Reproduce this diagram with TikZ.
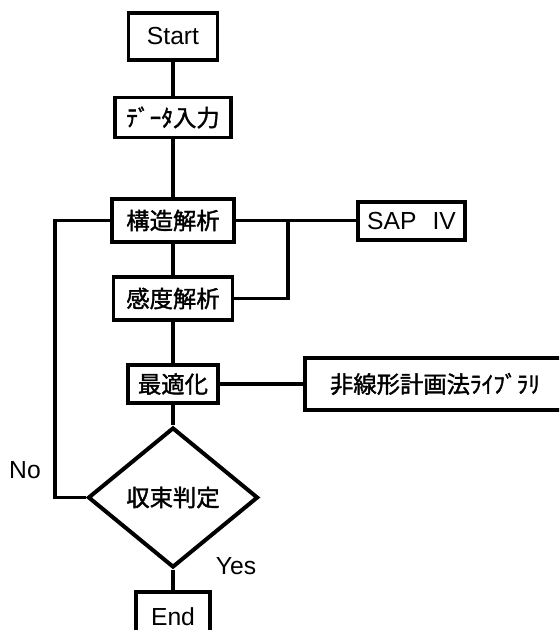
\documentclass[tikz,border=0pt]{standalone}
\usepackage{fontspec}
\setmainfont{Liberation Sans}
\newfontfamily\cjk[FakeBold=1.6]{Noto Sans CJK JP}
\usetikzlibrary{shapes.geometric}
\begin{document}
\begin{tikzpicture}[x=0.75pt,y=-0.75pt,
  box/.style={draw, line width=2.5pt, inner sep=0pt, font=\cjk\fontsize{17.5}{20}\selectfont},
  lbox/.style={box, font=\fontsize{18.5}{22}\selectfont},
  conn/.style={line width=2.5pt},
  lab/.style={inner sep=0pt, font=\fontsize{18.5}{22}\selectfont}]
\useasboundingbox (0,0) rectangle (559,630);
\clip (0,0) rectangle (559,630);

\node[lbox, minimum width=66.75pt, minimum height=35.25pt] (start) at (173,36.5) {Start};
\node[box, minimum width=87pt, minimum height=30pt] (data) at (173,117.5) {ﾃﾞｰﾀ入力};
\node[box, minimum width=91.5pt, minimum height=32.25pt] (kozo) at (173,220.5) {構造解析};
\node[box, minimum width=89.25pt, minimum height=32.25pt] (kando) at (173,298.5) {感度解析};
\node[box, minimum width=67.5pt, minimum height=28.5pt] (opt) at (173,384) {最適化};
\node[box, shape=diamond, line width=3pt, minimum width=127.5pt, minimum height=105pt] (judge) at (173,497.5) {収束判定};
\node[lbox, minimum width=55.5pt, minimum height=37.5pt] (end) at (173,617) {End};
\node[lbox, minimum width=80.25pt, minimum height=28.5pt] (sap) at (411.5,221) {SAP\hspace{12pt}IV};
\node[box, minimum width=195pt, minimum height=39pt] (lib) at (435,384) {非線形計画法ﾗｲﾌﾞﾗﾘ};

\coordinate (J) at (288,0);
\coordinate (L) at (55,0);

\draw[conn] (start) -- (data);
\draw[conn] (data) -- (kozo);
\draw[conn] (kozo) -- (kando);
\draw[conn] (kando) -- (opt);
\draw[conn] (opt) -- (judge);
\draw[conn] (judge) -- (end);
\draw[conn] (kozo.east) -- (kozo.east -| sap.west);
\draw[conn] (kando.east) -| (J |- kozo.east);
\draw[conn] (opt.east) -- (opt.east -| lib.west);
\draw[conn] (kozo.west) -- (kozo.west -| L) -- (L |- judge.west) -- (judge.west);

\node[lab] (no) at (25,470) {No};
\node[lab] (yes) at (236,566) {Yes};
\end{tikzpicture}
\end{document}
